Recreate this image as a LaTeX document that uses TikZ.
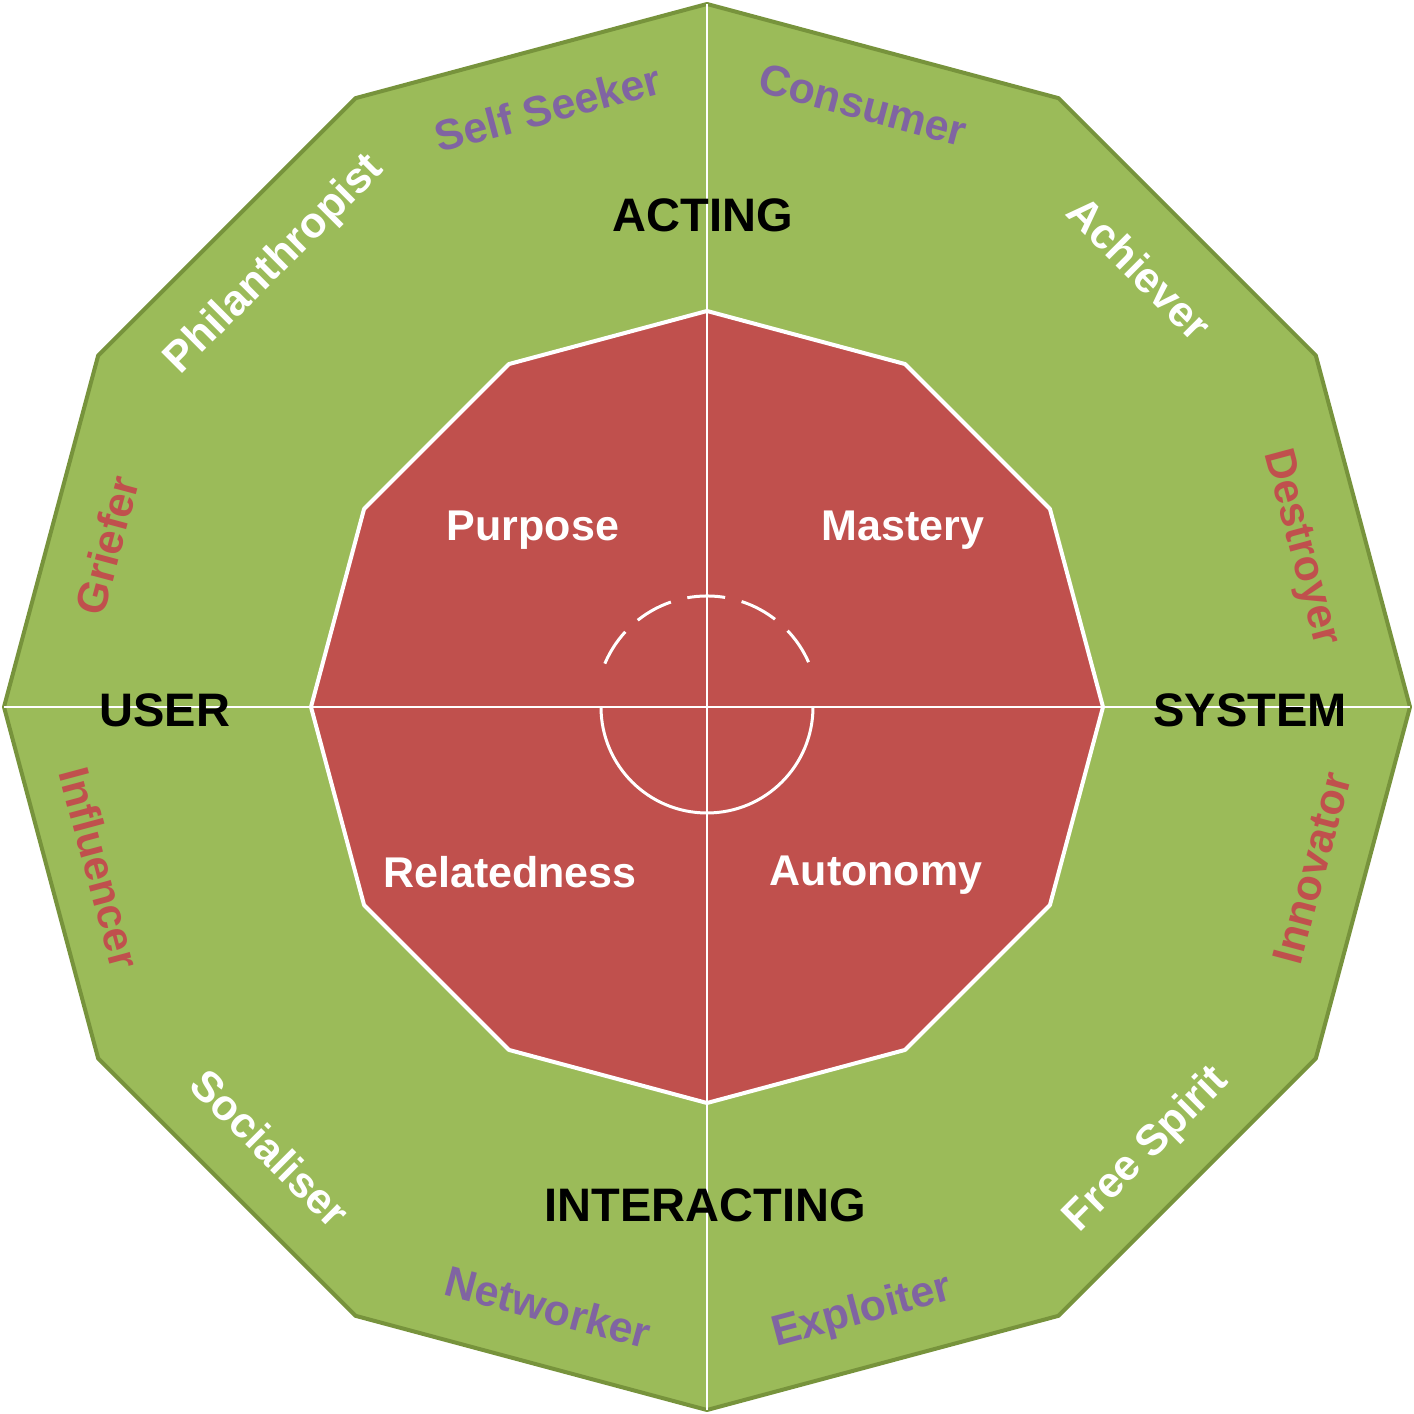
\documentclass[tikz,border=0pt]{standalone}
\usepackage{fontspec}
\setmainfont{Liberation Sans}
\definecolor{gfill}{HTML}{9BBB59}
\definecolor{gline}{HTML}{77933C}
\definecolor{rfill}{HTML}{C0504D}
\definecolor{purp}{HTML}{8064A2}
\definecolor{redt}{HTML}{C0504D}
\tikzset{
 role/.style={font=\fontsize{43}{43}\selectfont\bfseries,inner sep=0pt},
 axis/.style={font=\fontsize{47}{47}\selectfont\bfseries,text=black},
 need/.style={font=\fontsize{43}{43}\selectfont\bfseries,text=white}
}
\begin{document}
\begin{tikzpicture}[x=1pt,y=1pt]
\useasboundingbox (0,0) rectangle (1414,1414);
\begin{scope}[shift={(707,707)}]
\draw[fill=gfill,draw=gline,line width=4pt,line join=round] (0:703)
  \foreach \a in {30,60,...,330}{ -- (\a:703)} -- cycle;
\draw[white,line width=2pt] (90:703) -- (-90:703) (0:703) -- (180:703);
\draw[fill=rfill,draw=white,line width=4pt,line join=round] (0:396)
  \foreach \a in {30,60,...,330}{ -- (\a:396)} -- cycle;
\draw[white,line width=2pt] (90:396) -- (-90:396) (0:396) -- (180:396);
\draw[white,line width=3pt] (180:106) arc (180:360:106);
\draw[white,line width=3pt,dash pattern=on 38pt off 17pt] (157:111) arc (157:23:111);
\coordinate (o) at (0,0);
\end{scope}
\node[axis] (acting) at (703,1199) {ACTING};
\node[axis] (user) at (165,704) {USER};
\node[axis] (system) at (1250,704) {SYSTEM};
\node[axis] (inter) at (705,209) {INTERACTING};
\node[need] (purpose) at (533,884) {Purpose};
\node[need] (mastery) at (903,884) {Mastery};
\node[need] (related) at (510,542) {Relatedness};
\node[need] (auto) at (876,539) {Autonomy};
\node[role,text=purp,rotate=15] (self) at (548,1306) {Self Seeker};
\node[role,text=purp,rotate=-15] (cons) at (863,1309) {Consumer};
\node[role,text=white,rotate=-45] (ach) at (1140,1146) {Achiever};
\node[role,text=redt,rotate=-75] (des) at (1300,866) {Destroyer};
\node[role,text=redt,rotate=75] (inn) at (1312,546) {Innovator};
\node[role,text=white,rotate=45] (free) at (1147,264) {Free Spirit};
\node[role,text=purp,rotate=15] (expl) at (862,102) {Exploiter};
\node[role,text=purp,rotate=-15] (net) at (548,107) {Networker};
\node[role,text=white,rotate=-45] (soc) at (270,266) {Socialiser};
\node[role,text=redt,rotate=-75] (inf) at (100,546) {Influencer};
\node[role,text=redt,rotate=75] (grief) at (107,869) {Griefer};
\node[role,text=white,rotate=45] (phil) at (275,1149) {Philanthropist};
\end{tikzpicture}
\end{document}
